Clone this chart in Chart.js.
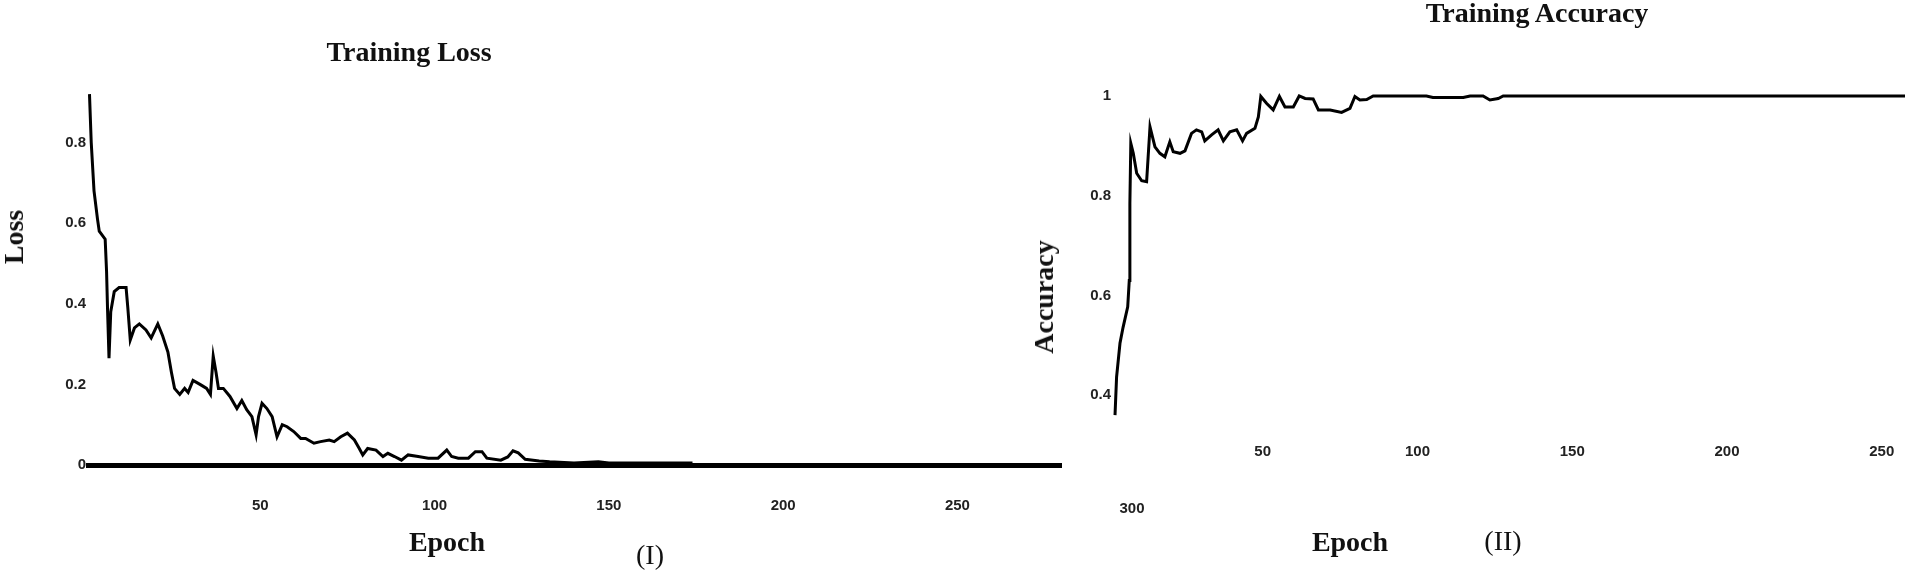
<!DOCTYPE html>
<html>
<head>
<meta charset="utf-8">
<title>Training Loss / Training Accuracy</title>
<script src="https://cdn.jsdelivr.net/npm/chart.js@4.4.1/dist/chart.umd.min.js"></script>
<style>
  html, body { margin: 0; padding: 0; background: #fff; }
  body { width: 1905px; height: 572px; position: relative; overflow: hidden; }
  canvas { position: absolute; top: 0; }
  #lossChart { left: 0; }
  #accChart { left: 1000px; }
  .txt {
    position: absolute; z-index: 2; white-space: nowrap; color: #111;
    font-family: 'Liberation Serif', 'Times New Roman', serif; font-size: 28px; line-height: 1;
    transform: translate(-50%, -50%);
  }
  .bold { font-weight: bold; }
  .rot { transform: translate(-50%, -50%) rotate(-90deg); }
  .small { font-family: 'Liberation Sans', sans-serif; font-size: 15px; font-weight: bold; color: #222; }
</style>
</head>
<body>
<canvas id="lossChart" width="1062" height="572"></canvas>
<canvas id="accChart" width="905" height="572"></canvas>

<div class="txt bold" style="left:409px; top:52px;">Training Loss</div>
<div class="txt bold rot" style="left:14px; top:237px;">Loss</div>
<div class="txt bold" style="left:447px; top:542px;">Epoch</div>
<div class="txt" style="left:650px; top:555px;">(I)</div>

<div class="txt bold" style="left:1537px; top:13px;">Training Accuracy</div>
<div class="txt bold rot" style="left:1044px; top:297px;">Accuracy</div>
<div class="txt bold" style="left:1350px; top:542px;">Epoch</div>
<div class="txt" style="left:1503px; top:541px;">(II)</div>
<div class="txt small" style="left:1132px; top:507px;">300</div>

<script>
// Datos
const lossEpochs = [1, 1.5, 2.3, 3.3, 3.8, 5.5, 5.9, 6.2, 6.6, 7.1, 8.1, 9.5, 11.5, 12, 12.7, 13.9, 15.3, 17.2, 18.7, 20.6,
  22, 23.5, 24.5, 25.4, 26.9, 28.3, 29.3, 30.7, 32.7, 34.6, 35.7, 36.5, 37.3, 38, 39.4, 41.3, 43.3, 44.7, 46.1, 47.6,
  48.8, 49.5, 50.5, 51.9, 53.4, 54.8, 56.3, 57.7, 59.6, 61.6, 63, 65.4, 67.3, 69.8, 71.2, 73.1, 75, 77, 78.4, 79.4,
  80.8, 83.2, 85.2, 86.6, 88.5, 90.5, 92.4, 95.3, 98.2, 101, 103.5, 104.9, 106.8, 109.7, 111.7, 113.6, 115, 119, 121, 122.5,
  124, 126, 130, 133, 140, 147, 150, 174];
const lossValues = [0.92, 0.80, 0.68, 0.61, 0.58, 0.56, 0.48, 0.38, 0.265, 0.38, 0.43, 0.44, 0.44, 0.39, 0.31, 0.34, 0.35, 0.335, 0.315, 0.35,
  0.32, 0.28, 0.23, 0.19, 0.175, 0.19, 0.18, 0.21, 0.2, 0.19, 0.175, 0.27, 0.23, 0.19, 0.19, 0.17, 0.14, 0.16, 0.137, 0.12,
  0.075, 0.12, 0.153, 0.14, 0.12, 0.07, 0.10, 0.095, 0.083, 0.066, 0.066, 0.054, 0.058, 0.062, 0.058, 0.07, 0.079, 0.062, 0.041, 0.025,
  0.041, 0.037, 0.021, 0.029, 0.021, 0.012, 0.025, 0.021, 0.017, 0.017, 0.037, 0.021, 0.017, 0.017, 0.033, 0.033, 0.017, 0.012, 0.02, 0.035,
  0.03, 0.014, 0.01, 0.008, 0.005, 0.008, 0.005, 0.005];

const accEpochs = [2.3, 2.8, 3.9, 4.9, 6.4, 6.9, 7.1, 7.4, 8.2, 9.3, 10.9, 12.5, 13.6, 15.2, 16.8, 18.4, 20, 21.1, 23.3, 24.9,
  27, 28.6, 30.3, 31.3, 33.5, 35.6, 37.3, 39.4, 41.6, 43.5, 44.8, 47.5, 48.6, 49.4, 51.3, 53.4, 55.4, 57.2, 59.9, 61.8,
  63.7, 66.3, 68, 71.8, 75.5, 78.2, 79.8, 81.4, 83.6, 85.7, 102.9, 105, 114.8, 117, 121.2, 123.4, 126.1, 127.7, 258];
const accValues = [0.36, 0.436, 0.504, 0.536, 0.577, 0.63, 0.785, 0.905, 0.885, 0.845, 0.83, 0.828, 0.938, 0.898, 0.885, 0.878, 0.908, 0.888, 0.885, 0.89,
  0.925, 0.932, 0.928, 0.91, 0.922, 0.932, 0.91, 0.928, 0.932, 0.91, 0.925, 0.935, 0.958, 0.999, 0.985, 0.972, 0.999, 0.978, 0.978, 1.0,
  0.995, 0.994, 0.972, 0.972, 0.967, 0.975, 0.999, 0.992, 0.993, 1.0, 1.0, 0.997, 0.997, 1.0, 1.0, 0.992, 0.995, 1.0, 1.0];

const epochTicks = [50, 100, 150, 200, 250];
const lossTicks = [0, 0.2, 0.4, 0.6, 0.8];
const accTicks = [0.4, 0.6, 0.8, 1];

const tickFont = { family: "'Liberation Sans', sans-serif", size: 15, weight: 'bold' };

function toPoints(xs, ys) {
  return xs.map((x, i) => ({ x: x, y: ys[i] }));
}

function makeChart(id, points, o) {
  return new Chart(document.getElementById(id), {
    type: 'line',
    data: {
      datasets: [{
        data: points,
        borderColor: '#000',
        borderWidth: 3,
        pointRadius: 0,
        tension: 0,
        fill: false
      }]
    },
    options: {
      responsive: false,
      animation: false,
      layout: { padding: { top: o.top, left: 0, right: 0, bottom: 0 } },
      plugins: { legend: { display: false }, tooltip: { enabled: false } },
      scales: {
        x: {
          type: 'linear', min: o.xMin, max: o.xMax,
          grid: { display: false, drawTicks: false },
          border: { display: false },
          ticks: { font: tickFont, color: '#222', padding: o.xPad, maxRotation: 0, callback: v => String(v) },
          afterBuildTicks: s => { s.ticks = epochTicks.map(v => ({ value: v })); },
          afterFit: s => { s.height = o.xHeight; }
        },
        y: {
          type: 'linear', min: o.yMin, max: o.yMax,
          // la línea gruesa del eje (valor 0) solo en la gráfica de pérdida
          grid: {
            display: o.zeroLine, drawTicks: false, lineWidth: 5,
            color: c => (c.tick && c.tick.value === 0) ? '#000' : 'rgba(0,0,0,0)'
          },
          border: { display: false },
          ticks: { font: tickFont, color: '#222', padding: 0, callback: v => String(v) },
          afterBuildTicks: s => { s.ticks = o.yTicks.map(v => ({ value: v })); },
          afterFit: s => { s.width = o.yWidth; }
        }
      }
    }
  });
}

// Gráfica (I): pérdida
makeChart('lossChart', toPoints(lossEpochs, lossValues), {
  top: 82, xHeight: 107, yWidth: 86, xPad: 32,
  xMin: 0, xMax: 280, yMin: 0, yMax: 0.95, yTicks: lossTicks, zeroLine: true
});

// Gráfica (II): exactitud
makeChart('accChart', toPoints(accEpochs, accValues), {
  top: 86, xHeight: 127, yWidth: 111, xPad: -2,
  xMin: 1, xMax: 257.5, yMin: 0.3, yMax: 1.02, yTicks: accTicks, zeroLine: false
});
</script>
</body>
</html>
